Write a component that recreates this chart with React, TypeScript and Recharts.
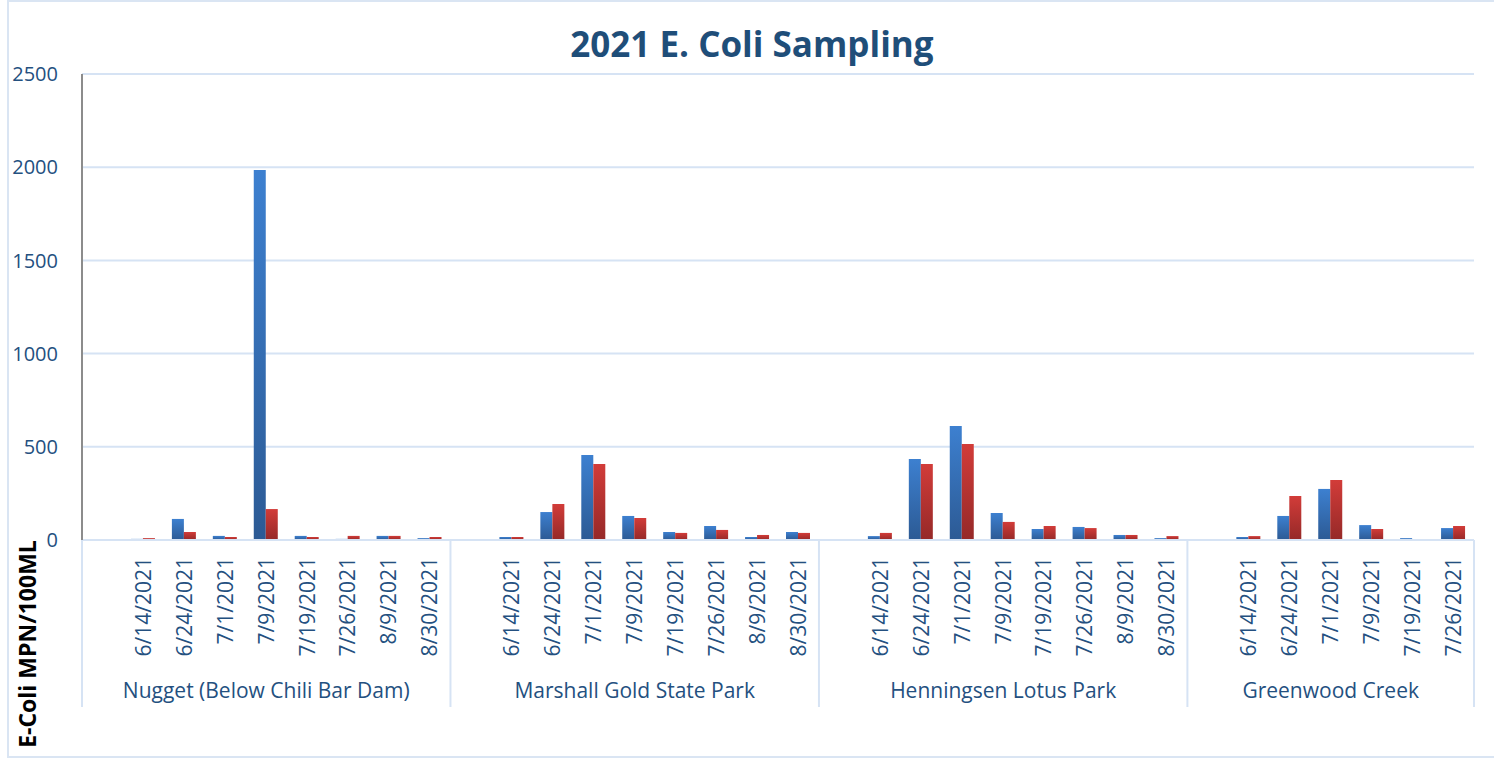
import { Bar, BarChart, CartesianGrid, Label, XAxis, YAxis } from "recharts";

const sites = [
  "Nugget (Below Chili Bar Dam)",
  "Marshall Gold State Park",
  "Henningsen Lotus Park",
  "Greenwood Creek",
];

const nuggetDates = ["6/14/2021", "6/24/2021", "7/1/2021", "7/9/2021", "7/19/2021", "7/26/2021", "8/9/2021", "8/30/2021"];
const marshallDates = ["6/14/2021", "6/24/2021", "7/1/2021", "7/9/2021", "7/19/2021", "7/26/2021", "8/9/2021", "8/30/2021"];
const henningsenDates = ["6/14/2021", "6/24/2021", "7/1/2021", "7/9/2021", "7/19/2021", "7/26/2021", "8/9/2021", "8/30/2021"];
const greenwoodDates = ["6/14/2021", "6/24/2021", "7/1/2021", "7/9/2021", "7/19/2021", "7/26/2021"];

const nuggetBlue = [6, 113, 22, 1985, 22, 6, 22, 10];
const nuggetRed = [10, 43, 16, 166, 16, 22, 22, 16];
const marshallBlue = [16, 150, 456, 129, 43, 75, 16, 43];
const marshallRed = [16, 193, 408, 118, 38, 54, 27, 38];
const henningsenBlue = [21, 435, 612, 145, 59, 70, 27, 10];
const henningsenRed = [38, 408, 515, 97, 75, 64, 27, 21];
const greenwoodBlue = [16, 129, 274, 80, 10, 64];
const greenwoodRed = [21, 236, 322, 59, 0, 75];

const yTicks = [0, 500, 1000, 1500, 2000, 2500];

const siteDates = [nuggetDates, marshallDates, henningsenDates, greenwoodDates];
const blueValues = [nuggetBlue, marshallBlue, henningsenBlue, greenwoodBlue];
const redValues = [nuggetRed, marshallRed, henningsenRed, greenwoodRed];

type Row = {
  id: string;
  date: string;
  site: string;
  first: boolean;
  middle: boolean;
  blue?: number;
  red?: number;
};

// each site gets a blank slot in front of its dates
const rows: Row[] = [];
sites.forEach((site, s) => {
  const dates = siteDates[s];
  const mid = Math.floor((dates.length + 1) / 2);
  rows.push({ id: `${s}-blank`, date: "", site, first: true, middle: mid === 0 });
  dates.forEach((d, i) =>
    rows.push({
      id: `${s}-${i}`,
      date: d,
      site,
      first: false,
      middle: i + 1 === mid,
      blue: blueValues[s][i],
      red: redValues[s][i],
    })
  );
});

const W = 1494;
const H = 761;
const margin = { top: 74, right: 20, left: 10, bottom: 46 };
const yAxisWidth = 72;
const band = (W - margin.left - margin.right - yAxisWidth) / rows.length;

const textBlue = "#24507f";
const lightLine = "#d6e3f4";
const font = "'Open Sans', sans-serif";

function DateTick(props: any) {
  const { x, y, payload } = props;
  const idx = rows.findIndex((r) => r.id === payload.value);
  const row = rows[idx];
  if (!row) return <g />;
  const half = band / 2;
  return (
    <g>
      {row.first && (
        <line x1={x - half} x2={x - half} y1={y} y2={y + 167} stroke={lightLine} strokeWidth={2} />
      )}
      {idx === rows.length - 1 && (
        <line x1={x + half} x2={x + half} y1={y} y2={y + 167} stroke={lightLine} strokeWidth={2} />
      )}
      {row.date && (
        <text
          transform={`translate(${x},${y + 17}) rotate(-90)`}
          textAnchor="end"
          dy="0.35em"
          fill={textBlue}
          fontSize={21}
          fontFamily={font}
        >
          {row.date}
        </text>
      )}
    </g>
  );
}

function SiteTick(props: any) {
  const { x, y, payload } = props;
  const row = rows.find((r) => r.id === payload.value);
  if (!row || !row.middle) return <g />;
  return (
    <text x={x} y={y + 21} dy="0.35em" textAnchor="middle" fill={textBlue} fontSize={21} fontFamily={font}>
      {row.site}
    </text>
  );
}

function YLabel(props: any) {
  const vb = props.viewBox || { x: 10, y: 74, width: 72, height: 466 };
  const cx = vb.x + 18;
  const cy = vb.y + vb.height + 104;
  return (
    <text
      transform={`translate(${cx},${cy}) rotate(-90)`}
      textAnchor="middle"
      dy="0.35em"
      fill="#000"
      fontWeight="bold"
      fontSize={23}
      fontFamily={font}
    >
      E-Coli MPN/100ML
    </text>
  );
}

export default function App() {
  return (
    <div
      style={{
        position: "absolute",
        left: 0,
        top: 0,
        width: W,
        height: H,
        overflow: "hidden",
        background: "#fff",
      }}
    >
      <div
        style={{
          position: "absolute",
          left: 7,
          top: 0,
          width: W + 20,
          height: 758,
          border: "2px solid #dae5f3",
          boxSizing: "border-box",
        }}
      />
      <div
        style={{
          position: "absolute",
          left: 5,
          top: 22,
          width: W,
          textAlign: "center",
          fontFamily: font,
          fontWeight: "bold",
          fontSize: 35,
          lineHeight: "44px",
          color: "#1f4e79",
        }}
      >
        2021 E. Coli Sampling
      </div>
      <div style={{ position: "absolute", left: 0, top: 0 }}>
        <BarChart width={W} height={H} data={rows} margin={margin} barGap={0}>
          <defs>
            <linearGradient id="blueGrad" x1="0" y1="0" x2="0" y2="1">
              <stop offset="0%" stopColor="#3d80d0" />
              <stop offset="100%" stopColor="#2c5a94" />
            </linearGradient>
            <linearGradient id="redGrad" x1="0" y1="0" x2="0" y2="1">
              <stop offset="0%" stopColor="#d23c39" />
              <stop offset="100%" stopColor="#952928" />
            </linearGradient>
          </defs>
          <CartesianGrid vertical={false} stroke={lightLine} strokeWidth={2} />
          <XAxis
            dataKey="id"
            type="category"
            interval={0}
            height={130}
            tickSize={0}
            tickMargin={0}
            tickLine={false}
            axisLine={{ stroke: lightLine, strokeWidth: 2 }}
            tick={<DateTick />}
          />
          <XAxis
            xAxisId="site"
            dataKey="id"
            type="category"
            interval={0}
            height={45}
            tickSize={0}
            tickMargin={0}
            tickLine={false}
            axisLine={false}
            tick={<SiteTick />}
          />
          <YAxis
            width={yAxisWidth}
            domain={[0, 2500]}
            ticks={yTicks}
            interval={0}
            tickLine={false}
            tickSize={0}
            tickMargin={24}
            axisLine={{ stroke: "#8c8c8c", strokeWidth: 2 }}
            tick={{ fill: textBlue, fontSize: 20, fontFamily: font }}
          >
            <Label content={<YLabel />} />
          </YAxis>
          <Bar dataKey="blue" fill="url(#blueGrad)" barSize={12} isAnimationActive={false} />
          <Bar dataKey="red" fill="url(#redGrad)" barSize={12} isAnimationActive={false} />
        </BarChart>
      </div>
    </div>
  );
}
